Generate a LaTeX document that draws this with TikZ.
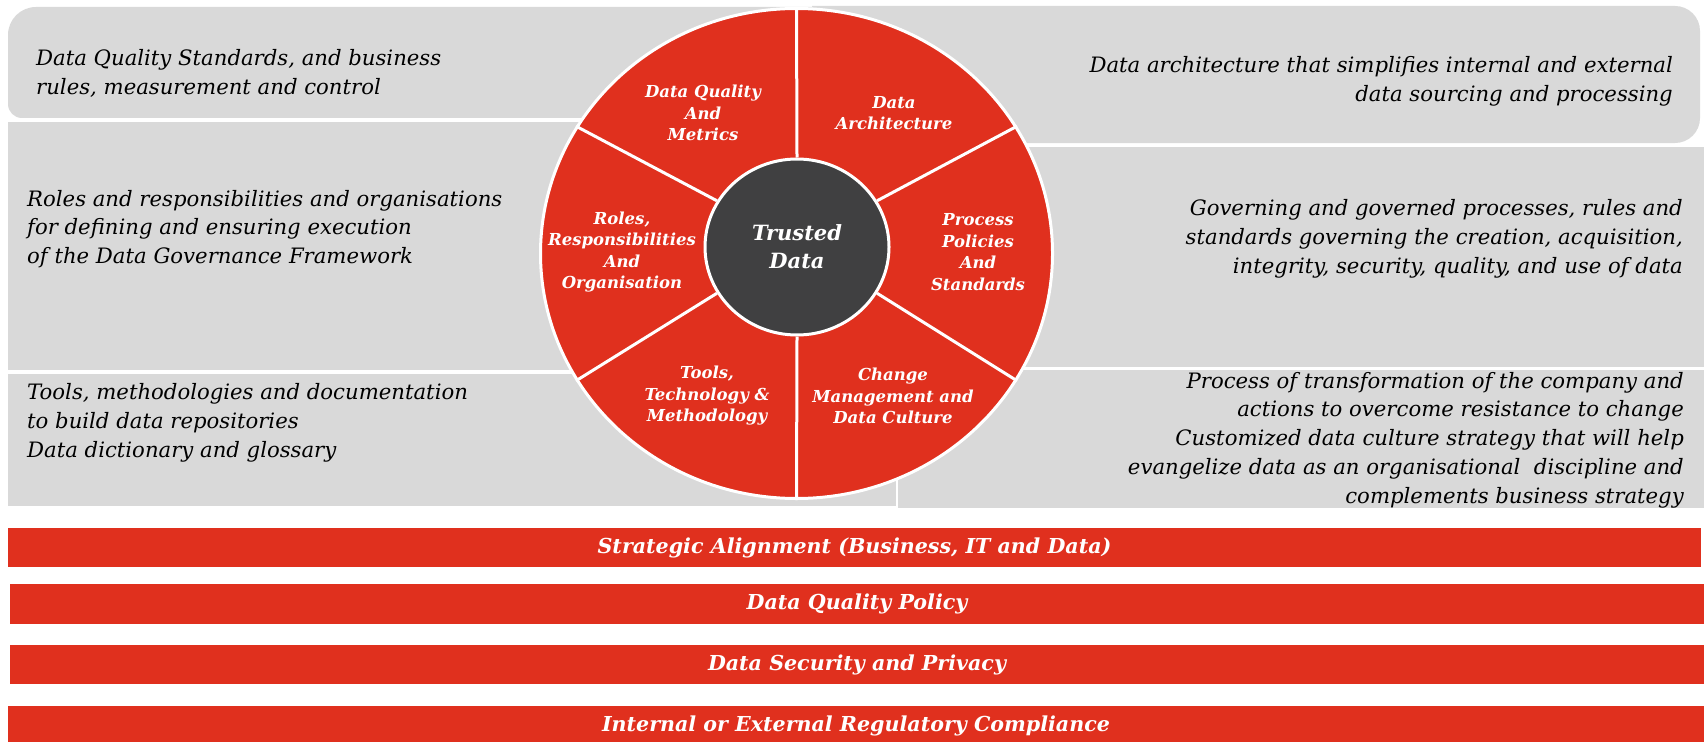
\documentclass[tikz,border=0pt]{standalone}
\usepackage{fontspec}
\setmainfont{DejaVu Serif}
\usepackage{xcolor}
\usetikzlibrary{shapes.geometric}
\definecolor{wheelred}{HTML}{E0301E}
\definecolor{panelgrey}{HTML}{D9D9D9}
\definecolor{hubgrey}{HTML}{404041}
\tikzstyle{panel} = [fill=panelgrey]
\tikzstyle{note} = [font=\fontsize{21.2}{28.8}\selectfont\itshape, text=black, inner sep=0pt]
\tikzstyle{noteleft} = [note, anchor=west, align=left]
\tikzstyle{noteright} = [note, anchor=east, align=right]
\tikzstyle{sector} = [font=\fontsize{16.5}{21.5}\selectfont\bfseries\itshape, text=white,
align=center, inner sep=0pt]
\tikzstyle{divider} = [draw=white, line width=3pt]
\tikzstyle{bar} = [rectangle, fill=wheelred, text=white, inner sep=0pt,
font=\fontsize{20.6}{24}\selectfont\bfseries\itshape, minimum height=39pt]

\begin{document}
\begin{tikzpicture}[x=1pt, y=-1pt]
        \useasboundingbox (0,0) rectangle (1704,741);
        \fill[white] (0,0) rectangle (1704,741);

        % grey panels behind the wheel
        \fill[panel] (812,7) [rounded corners=28pt] -- (8,7) -- (8,60) [rounded corners=14pt] -- (8,118) -- (812,118) [sharp corners] -- cycle;
        \fill[panel] (812,143) -- (812,6) -- (1000,6) [rounded corners=25pt] -- (1700,6) -- (1700,143) -- (1000,143) [sharp corners] -- cycle;
        \fill[panel] (8,122) rectangle (800,370);
        \fill[panel] (800,147) rectangle (1704,367);
        \fill[panel] (8,374) rectangle (896,506);
        \fill[panel] (898,370) rectangle (1704,508);

        \node [noteleft] (dqnote) at (36,73) {Data Quality Standards, and business\\rules, measurement and control};
        \node [noteleft] (rolesnote) at (27,229) {Roles and responsibilities and organisations\\for defining and ensuring execution\\of the Data Governance Framework};
        \node [noteleft] (toolsnote) at (27,423) {Tools, methodologies and documentation\\to build data repositories\\Data dictionary and glossary};
        \node [noteright] (archnote) at (1673,81) {Data architecture that simplifies internal and external\\data sourcing and processing};
        \node [noteright] (procnote) at (1683,239) {Governing and governed processes, rules and\\standards governing the creation, acquisition,\\integrity, security, quality, and use of data};
        \node [noteright] (changenote) at (1684,440) {Process of transformation of the company and\\actions to overcome resistance to change\\Customized data culture strategy that will help\\evangelize data as an organisational\ \ discipline and\\complements business strategy};

        % wheel
        \node [ellipse, fill=wheelred, draw=white, line width=3pt, inner sep=0pt,
        minimum width=512pt, minimum height=490pt] (wheel) at (796.5,253.5) {};
        \node [ellipse, fill=hubgrey, draw=white, line width=3pt, inner sep=0pt,
        minimum width=184pt, minimum height=176pt, text=white,
        font=\fontsize{21}{28}\selectfont\bfseries\itshape, align=center] (hub) at (797,247) {Trusted\\Data};
        \foreach \a in {30,90,150,210,270,330}
          \draw [divider] (hub.\a) -- (wheel.\a);

        \node [sector] (dqlabel) at (703,113) {Data Quality\\And\\Metrics};
        \node [sector] (archlabel) at (894,113) {Data\\Architecture};
        \node [sector] (proclabel) at (978,252) {Process\\Policies\\And\\Standards};
        \node [sector] (roleslabel) at (622,252) {Roles,\\Responsibilities\\And\\Organisation};
        \node [sector] (toolslabel) at (707,396) {Tools,\\Technology \&\\Methodology};
        \node [sector] (changelabel) at (893,396) {Change\\Management and\\Data Culture};

        % foundation bars
        \node [bar, minimum width=1693pt] (alignbar) at (854.5,547.5) {Strategic Alignment (Business, IT and Data)};
        \node [bar, minimum width=1694pt, minimum height=40pt] (qualitybar) at (857,604) {Data Quality Policy};
        \node [bar, minimum width=1694pt] (securitybar) at (857,664.5) {Data Security and Privacy};
        \node [bar, minimum width=1696pt] (compliancebar) at (856,725.5) {Internal or External Regulatory Compliance};
      \end{tikzpicture}
\end{document}
